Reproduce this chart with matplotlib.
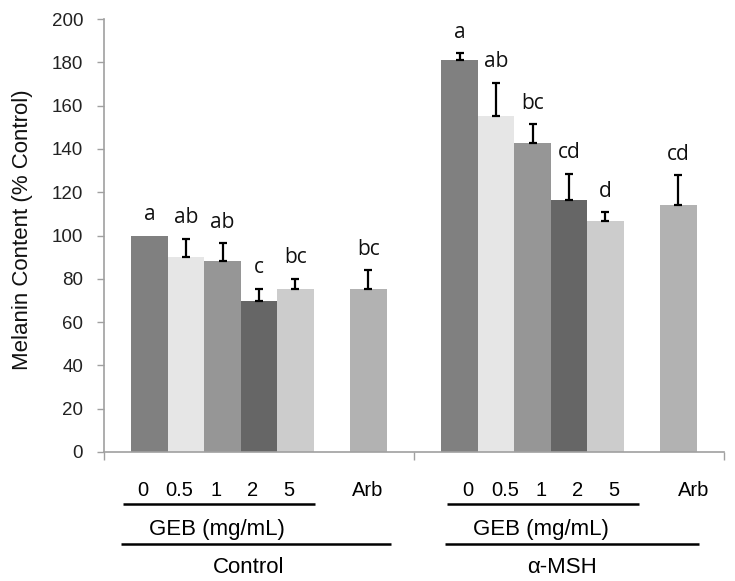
import numpy as np
import matplotlib
matplotlib.use("Agg")
import matplotlib.pyplot as plt

# ---------------- data ----------------
groups = ["Control", "α-MSH"]
dose_labels = ["0", "0.5", "1", "2", "5", "", "Arb"]
control_vals = [100, 90.2, 88.2, 69.9, 75.4, np.nan, 75.4]
control_err = [0, 8.3, 8.2, 5.5, 4.6, np.nan, 8.7]
msh_vals = [180.9, 155.0, 142.9, 116.4, 106.6, np.nan, 113.9]
msh_err = [3.2, 15.6, 8.6, 12.1, 4.1, np.nan, 14.0]
control_letters = ["a", "ab", "ab", "c", "bc", "", "bc"]
msh_letters = ["a", "ab", "bc", "cd", "d", "", "cd"]
yticks = [0, 20, 40, 60, 80, 100, 120, 140, 160, 180, 200]

# ---------------- style ----------------
colors = ["#808080", "#e6e6e6", "#969696", "#666666", "#cccccc", "#ffffff", "#b2b2b2"]
axis_gray = "#a0a0a0"
arial = ["Liberation Sans", "DejaVu Sans"]
letter_font = ["Open Sans", "DejaVu Sans"]

fig = plt.figure(figsize=(7.35, 5.81), dpi=100)
ax = fig.add_axes([104 / 735, 1 - 452 / 581, 620 / 735, 433 / 581])

nser = len(dose_labels)
bw = 0.1177
gap = (1 - nser * bw) / 2

all_vals = [control_vals, msh_vals]
all_errs = [control_err, msh_err]
all_letters = [control_letters, msh_letters]

for g in range(len(groups)):
    vals = np.array(all_vals[g], dtype=float)
    errs = np.array(all_errs[g], dtype=float)
    xs = g + gap + (np.arange(nser) + 0.5) * bw
    for i in range(nser):
        if np.isnan(vals[i]):
            continue
        ax.bar(xs[i], vals[i], width=bw, color=colors[i], edgecolor="none", zorder=2)
        if errs[i] > 0:
            ax.errorbar(xs[i], vals[i], yerr=[[0], [errs[i]]], fmt="none",
                        ecolor="black", elinewidth=1.6, capsize=3.2, capthick=1.6, zorder=3)
        top = vals[i] + (errs[i] if errs[i] > 0 else 0)
        ax.annotate(all_letters[g][i], (xs[i], top), xytext=(0, 15),
                    textcoords="offset points", ha="center", va="center",
                    fontsize=15, family=letter_font, color="#111111")

ax.set_xlim(0, 2)
ax.set_ylim(0, 200)
ax.set_yticks(yticks)
ax.set_yticklabels([str(t) for t in yticks], family=arial, fontsize=13.5, color="#222222")
ax.set_xticks([0, 1, 2])
ax.set_xticklabels([])
ax.tick_params(axis="y", direction="out", length=5, width=1, color=axis_gray, pad=10)
ax.tick_params(axis="x", direction="out", length=6, width=1, color=axis_gray)
for s in ["top", "right"]:
    ax.spines[s].set_visible(False)
for s in ["left", "bottom"]:
    ax.spines[s].set_color(axis_gray)
    ax.spines[s].set_linewidth(1.2)

ax.set_ylabel("Melanin Content (% Control)", family=arial, fontsize=16, color="#111111")
ax.yaxis.set_label_coords(-0.115, 0.513)

# ---------------- category annotations below axis ----------------
trans = ax.get_xaxis_transform()
shifts = [-0.022, 0.028]
line_shift = [0.0, 0.045]
row_y, line1_y, geb_y, line2_y, grp_y = -0.0878, -0.120, -0.180, -0.2125, -0.2656
for g in range(len(groups)):
    xs = g + gap + (np.arange(nser) + 0.5) * bw + shifts[g]
    for i in range(nser):
        if dose_labels[i]:
            ax.text(xs[i] + (0.02 if dose_labels[i] == "Arb" else 0), row_y,
                    dose_labels[i], transform=trans, ha="center", va="center",
                    family=arial, fontsize=14.5, color="black", clip_on=False)
    base = g + line_shift[g]
    ax.plot([base + 0.061, base + 0.681], [line1_y, line1_y], transform=trans,
            color="black", lw=1.8, clip_on=False, solid_capstyle="butt")
    ax.text(base + 0.365, geb_y, "GEB (mg/mL)", transform=trans, ha="center",
            va="center", family=arial, fontsize=16, color="black")
    ax.plot([base + 0.055, base + 0.925 - (0.05 if g else 0)], [line2_y, line2_y],
            transform=trans, color="black", lw=1.8, clip_on=False, solid_capstyle="butt")
    ax.text(g + (0.465 if g == 0 else 0.477), grp_y, groups[g], transform=trans,
            ha="center", va="center", family=arial, fontsize=16, color="black")

fig.savefig("out.png", dpi=100)
